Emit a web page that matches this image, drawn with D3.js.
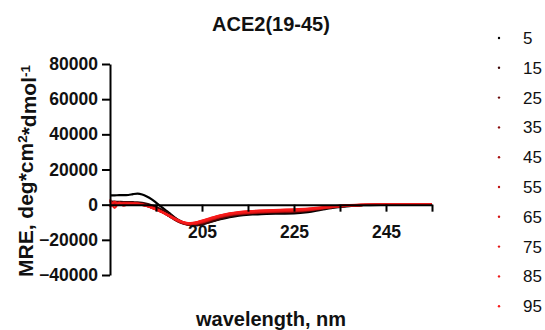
<!DOCTYPE html>
<html>
<head>
<meta charset="utf-8">
<script src="https://cdn.jsdelivr.net/npm/d3@7"></script>
<style>
  html, body { margin: 0; padding: 0; background: #fff; }
  svg { display: block; font-family: "Liberation Sans", Arial, Helvetica, sans-serif; }
</style>
</head>
<body>
<svg id="chart" width="545" height="330"></svg>
<script>
// CD spectra of ACE2(19-45) recorded at increasing temperature (°C)
const wavelengths = [185,186,187,188,189,190,191,192,193,194,195,196,197,198,199,200,201,202,203,204,205,
                     207,209,211,213,216,219,222,225,228,231,234,237,240,245,250,255];

const temps = ["5","15","25","35","45","55","65","75","85","95"];

const mre5  = [5300,5300,5400,5400,5500,6000,6300,5800,4700,3200,1200,-900,-3000,-5000,-7200,-9300,-10600,-11400,-11700,-11600,-11200,
               -9700,-8300,-7100,-6200,-5600,-5200,-5100,-5000,-4300,-2900,-1600,-800,-300,-100,0,0];
const mre15 = [1800,1700,1600,1500,1500,1400,1300,1000,500,-300,-1300,-2500,-3900,-5500,-7200,-8800,-10200,-11100,-11600,-11600,-11200,
               -9600,-8000,-6700,-5800,-5000,-4600,-4400,-4300,-3600,-2500,-1400,-600,-200,0,0,0];
const mre25 = [1300,1100,1200,1000,1100,900,700,200,-500,-1400,-2500,-3800,-5200,-6800,-8400,-9800,-10800,-11300,-11300,-10900,-10300,
               -8700,-7100,-6000,-5300,-4700,-4300,-4000,-3800,-3200,-2200,-1200,-600,-200,0,0,0];
const mre35 = [900,1200,800,1100,900,800,700,200,-500,-1400,-2500,-3800,-5100,-6700,-8300,-9700,-10700,-11200,-11200,-10800,-10200,
               -8600,-7000,-5900,-5200,-4600,-4200,-3900,-3700,-3100,-2100,-1200,-500,-200,0,0,0];
const mre45 = [1500,700,1000,800,1000,700,600,100,-600,-1500,-2500,-3700,-5100,-6600,-8200,-9600,-10600,-11100,-11000,-10600,-10000,
               -8400,-6900,-5800,-5100,-4500,-4100,-3800,-3500,-3000,-2000,-1100,-500,-200,0,0,0];
const mre55 = [800,1000,600,900,800,700,600,100,-600,-1500,-2500,-3700,-5000,-6500,-8000,-9400,-10400,-10900,-10900,-10500,-9900,
               -8300,-6800,-5700,-5000,-4400,-4000,-3700,-3400,-2900,-2000,-1100,-500,-200,0,0,0];
const mre65 = [-300,1300,400,800,600,700,500,0,-700,-1600,-2600,-3800,-5100,-6500,-8000,-9300,-10300,-10800,-10800,-10400,-9700,
               -8100,-6600,-5500,-4800,-4200,-3800,-3500,-3300,-2800,-1900,-1000,-400,-100,0,0,0];
const mre75 = [2200,-400,900,300,700,500,500,0,-700,-1600,-2600,-3800,-5100,-6500,-7900,-9200,-10200,-10700,-10700,-10200,-9500,
               -7900,-6400,-5300,-4600,-4000,-3600,-3300,-3100,-2700,-1800,-900,-400,-100,0,100,0];
const mre85 = [-1500,1600,-200,900,300,600,400,-100,-800,-1700,-2700,-3900,-5200,-6500,-7900,-9200,-10100,-10600,-10500,-10000,-9300,
               -7700,-6200,-5100,-4400,-3800,-3400,-3100,-2900,-2500,-1700,-900,-300,-100,0,100,0];
const mre95 = [3000,-1800,1200,-600,400,500,300,-100,-800,-1700,-2700,-3900,-5100,-6500,-7900,-9100,-10000,-10500,-10400,-9900,-9100,
               -7500,-6000,-4900,-4200,-3600,-3200,-2900,-2700,-2300,-1500,-800,-300,0,100,100,0];

const seriesValues = [mre5, mre15, mre25, mre35, mre45, mre55, mre65, mre75, mre85, mre95];

const colors = ["#000000","#3d0808","#6a0c0c","#8a0e0e","#a81010","#c01212","#d41414","#e21616","#ee1818","#f81a1a"];

const yTicks = [-40000,-20000,0,20000,40000,60000,80000];
const xTicks = [195,205,215,225,235,245,255];
const xTickLabels = [205,225,245];

const svg = d3.select("#chart");

const x = d3.scaleLinear().domain([185, 255]).range([110, 432]);
const y = d3.scaleLinear().domain([-40000, 80000]).range([275, 64]);

// spectra, drawn coldest to hottest
const line = d3.line()
  .x((d, i) => x(wavelengths[i]))
  .y(d => y(d))
  .curve(d3.curveMonotoneX);

svg.append("g")
  .selectAll("path")
  .data(seriesValues)
  .join("path")
  .attr("d", d => line(d))
  .attr("fill", "none")
  .attr("stroke", (d, i) => colors[i])
  .attr("stroke-width", 2.2)
  .attr("stroke-linejoin", "round");

// y axis
const yAxis = svg.append("g")
  .attr("transform", `translate(${x(185)},0)`)
  .call(d3.axisLeft(y).tickValues(yTicks).tickSize(8).tickSizeOuter(0).tickPadding(4).tickFormat(d3.format("d")));
yAxis.select(".domain").attr("stroke", "#000").attr("stroke-width", 2);
yAxis.selectAll(".tick line").attr("stroke", "#000").attr("stroke-width", 2);
yAxis.selectAll(".tick text")
  .attr("fill", "#111")
  .style("font-size", "17.5px")
  .style("font-weight", "bold");

// x axis at MRE = 0
const xAxis = svg.append("g")
  .attr("transform", `translate(0,${y(0)})`)
  .call(d3.axisBottom(x).tickValues(xTicks).tickSize(7).tickSizeOuter(0)
    .tickFormat(d => xTickLabels.includes(d) ? d : ""));
xAxis.select(".domain").attr("stroke", "#000").attr("stroke-width", 2);
xAxis.selectAll(".tick line").attr("stroke", "#000").attr("stroke-width", 2);
xAxis.selectAll(".tick text")
  .attr("y", 21)
  .attr("fill", "#111")
  .style("font-size", "17.5px")
  .style("font-weight", "bold");

// title
svg.append("text")
  .attr("x", 271).attr("y", 31)
  .attr("text-anchor", "middle")
  .style("font-size", "20px").style("font-weight", "bold")
  .attr("fill", "#111")
  .text("ACE2(19-45)");

// x axis title
svg.append("text")
  .attr("x", 271).attr("y", 326)
  .attr("text-anchor", "middle")
  .style("font-size", "20px").style("font-weight", "bold")
  .attr("fill", "#111")
  .text("wavelength, nm");

// y axis title with superscripts
const yl = svg.append("text")
  .attr("transform", "translate(33,171) rotate(-90)")
  .attr("text-anchor", "middle")
  .style("font-size", "21px").style("font-weight", "bold")
  .attr("fill", "#111");
yl.append("tspan").text("MRE, deg*cm");
yl.append("tspan").attr("dy", "-0.45em").style("font-size", "13.5px").text("2");
yl.append("tspan").attr("dy", "0.45em").text("*dmol");
yl.append("tspan").attr("dy", "-0.45em").style("font-size", "13.5px").text("-1");

// legend
const legend = svg.append("g")
  .selectAll("g")
  .data(temps)
  .join("g")
  .attr("transform", (d, i) => `translate(0,${38 + i * 29.8})`);
legend.append("circle")
  .attr("cx", 499).attr("cy", 0).attr("r", 1.2)
  .attr("fill", (d, i) => colors[i]);
legend.append("text")
  .attr("x", 523).attr("y", 6)
  .style("font-size", "17px")
  .attr("fill", "#111")
  .text(d => d);
</script>
</body>
</html>
